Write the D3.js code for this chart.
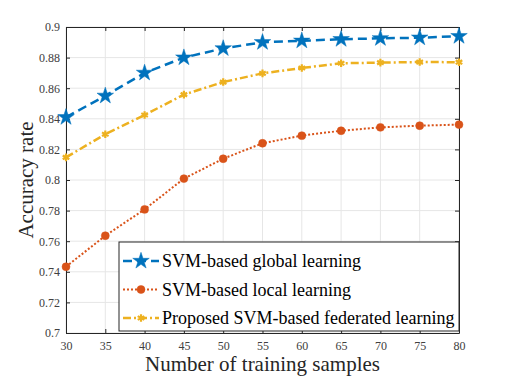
<!DOCTYPE html>
<html>
<head>
<meta charset="utf-8">
<script src="https://cdn.jsdelivr.net/npm/d3@7"></script>
<style>
  body { margin: 0; background: #fff; }
  svg text { font-family: "Liberation Serif", "DejaVu Serif", serif; }
</style>
</head>
<body>
<div id="chart"></div>
<script>
// data
var samples = [30, 35, 40, 45, 50, 55, 60, 65, 70, 75, 80]
var globalAcc = [0.841, 0.855, 0.870, 0.880, 0.886, 0.890, 0.891, 0.892, 0.8926, 0.893, 0.894]
var localAcc = [0.7433, 0.7636, 0.7808, 0.8009, 0.8139, 0.824, 0.829, 0.8322, 0.8344, 0.8355, 0.8362]
var fedAcc = [0.8148, 0.8299, 0.8425, 0.8558, 0.864, 0.8697, 0.8732, 0.8763, 0.8767, 0.8771, 0.877]
var xTicks = [30, 35, 40, 45, 50, 55, 60, 65, 70, 75, 80]
var yTicks = [0.7, 0.72, 0.74, 0.76, 0.78, 0.8, 0.82, 0.84, 0.86, 0.88, 0.9]
var seriesNames = ["SVM-based global learning", "SVM-based local learning", "Proposed SVM-based federated learning"]

var W = 507, H = 377
var margin = { top: 27, right: 48, bottom: 44, left: 66 },
  width = W - margin.left - margin.right,
  height = H - margin.top - margin.bottom

var svg = d3.select("#chart")
  .append("svg")
  .attr("width", W)
  .attr("height", H)
  .append("g")
  .attr("transform", "translate(" + margin.left + "," + margin.top + ")")

var x = d3.scaleLinear().domain([30, 80]).range([0, width])
var y = d3.scaleLinear().domain([0.7, 0.9]).range([height, 0])

// grid
svg.append("g").selectAll("line").data(xTicks).enter().append("line")
  .attr("x1", d => x(d)).attr("x2", d => x(d))
  .attr("y1", 0).attr("y2", height)
  .style("stroke", "#e6e6e6").style("stroke-width", 1)
svg.append("g").selectAll("line").data(yTicks).enter().append("line")
  .attr("y1", d => y(d)).attr("y2", d => y(d))
  .attr("x1", 0).attr("x2", width)
  .style("stroke", "#e6e6e6").style("stroke-width", 1)

// axes (MATLAB style, ticks inward on every side)
function styleAxis(g) {
  g.attr("font-family", null).attr("font-size", null)
  g.select(".domain").style("stroke", "#262626").style("stroke-width", 1)
  g.selectAll(".tick line").style("stroke", "#262626")
  g.selectAll(".tick text")
    .attr("font-family", "Liberation Serif")
    .style("font-size", "12px")
    .style("fill", "#404040")
}
svg.append("g")
  .attr("transform", "translate(0," + height + ")")
  .call(d3.axisBottom(x).tickValues(xTicks).tickSizeInner(-4).tickSizeOuter(0).tickPadding(8))
  .call(styleAxis)
svg.append("g")
  .call(d3.axisLeft(y).tickValues(yTicks).tickSizeInner(-4).tickSizeOuter(0).tickPadding(6)
    .tickFormat(d => d3.format("")(+d.toFixed(2))))
  .call(styleAxis)
svg.append("g")
  .call(d3.axisTop(x).tickValues(xTicks).tickSizeInner(-4).tickSizeOuter(0).tickFormat(""))
  .call(styleAxis)
svg.append("g")
  .attr("transform", "translate(" + width + ",0)")
  .call(d3.axisRight(y).tickValues(yTicks).tickSizeInner(-4).tickSizeOuter(0).tickFormat(""))
  .call(styleAxis)

var series = [
  { name: seriesNames[0], values: globalAcc, color: "#0072BD", dash: "9,5", width: 2.5, symbol: d3.symbolStar, size: 85, kind: "fill" },
  { name: seriesNames[1], values: localAcc, color: "#D95319", dash: "2,2", width: 2, symbol: d3.symbolCircle, size: 50, kind: "fill" },
  { name: seriesNames[2], values: fedAcc, color: "#EDB120", dash: "8,3,2,3", width: 2.5, symbol: d3.symbolAsterisk, size: 40, kind: "stroke" }
]

var line = d3.line()
  .x(d => x(d[0]))
  .y(d => y(d[1]))

series.forEach(s => {
  var pts = samples.map((v, i) => [v, s.values[i]])
  svg.append("path")
    .datum(pts)
    .attr("d", line)
    .style("fill", "none")
    .style("stroke", s.color)
    .style("stroke-width", s.width)
    .style("stroke-dasharray", s.dash)
  svg.append("g").selectAll("path").data(pts).enter().append("path")
    .attr("transform", d => "translate(" + x(d[0]) + "," + y(d[1]) + ")")
    .attr("d", d3.symbol().type(s.symbol).size(s.size))
    .style("fill", s.kind == "fill" ? s.color : "none")
    .style("stroke", s.color)
    .style("stroke-width", s.kind == "fill" ? 0.5 : 2.2)
})

// legend
var lg = svg.append("g").attr("transform", "translate(" + (119 - margin.left) + "," + (242 - margin.top) + ")")
lg.append("rect")
  .attr("width", 340).attr("height", 89)
  .style("fill", "#fff").style("stroke", "#262626").style("stroke-width", 1)
series.forEach((s, i) => {
  var row = lg.append("g").attr("transform", "translate(0," + (19 + i * 28.5) + ")")
  row.append("line")
    .attr("x1", 4).attr("x2", 40)
    .style("stroke", s.color)
    .style("stroke-width", s.width)
    .style("stroke-dasharray", s.dash)
  row.append("path")
    .attr("transform", "translate(22,0)")
    .attr("d", d3.symbol().type(s.symbol).size(s.size))
    .style("fill", s.kind == "fill" ? s.color : "none")
    .style("stroke", s.color)
    .style("stroke-width", s.kind == "fill" ? 0.5 : 2.2)
  row.append("text")
    .attr("x", 43).attr("y", 6)
    .style("font-size", "18px")
    .style("fill", "#000")
    .text(s.name)
})

// axis titles
svg.append("text")
  .attr("x", width / 2).attr("y", height + 38)
  .attr("text-anchor", "middle")
  .style("font-size", "21px")
  .style("fill", "#262626")
  .text("Number of training samples")
svg.append("text")
  .attr("transform", "translate(" + (33 - margin.left) + "," + (height / 2) + ") rotate(-90)")
  .attr("text-anchor", "middle")
  .style("font-size", "21px")
  .style("fill", "#262626")
  .text("Accuracy rate")
</script>
</body>
</html>
